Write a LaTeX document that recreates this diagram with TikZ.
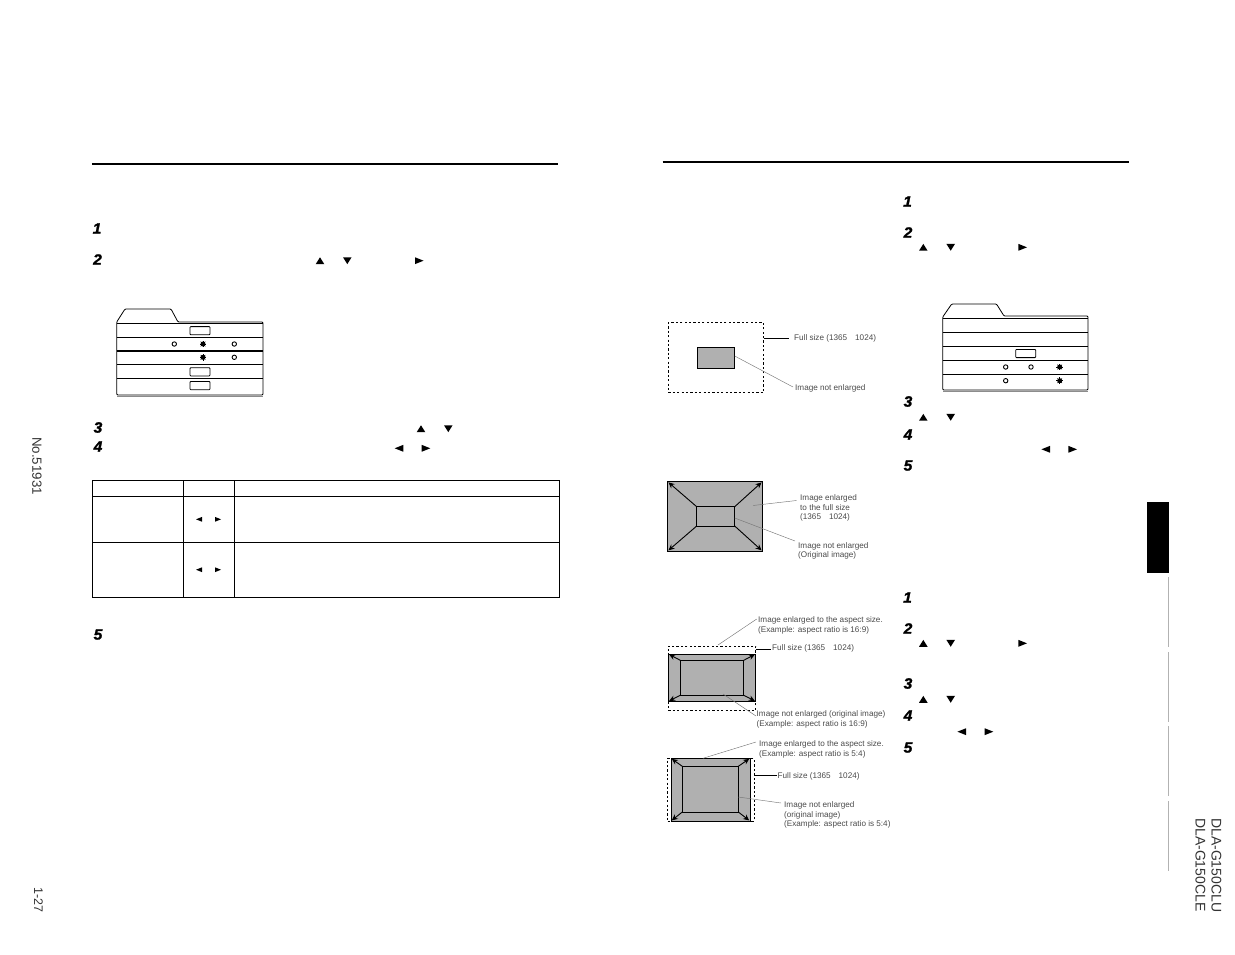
\documentclass[tikz,border=0pt]{standalone}
\usepackage{fontspec}
\setmainfont{Liberation Sans}
\newfontfamily\stepfont{Liberation Sans}[FakeBold=1.6,FakeStretch=1.04]
\usetikzlibrary{arrows.meta}
\definecolor{lbl}{HTML}{4A4A4A}
\definecolor{imgfill}{HTML}{B0B0B0}
\definecolor{leadc}{HTML}{777777}
\tikzset{
  x=1pt,y=-1pt,
  rulebar/.style={line width=2pt,black},
  menuline/.style={line width=0.8pt,black},
  stepnum/.style={font=\fontsize{15}{16}\stepfont\bfseries\itshape,inner sep=0},
  captxt/.style={font=\fontsize{8.15}{9.5}\selectfont,text=lbl,inner sep=0,anchor=north west,align=left,yshift=-1.8pt},
  sidetxt/.style={text=black!80,inner sep=0,rotate=-90},
  leadln/.style={line width=0.45pt,leadc},
  pointln/.style={line width=0.9pt,black},
  frameimg/.style={draw=black,line width=1pt,fill=imgfill},
  frameinner/.style={draw=black,line width=1pt},
  framedash/.style={draw=black,line width=0.9pt,dash pattern=on 2.2pt off 2.2pt},
  growline/.style={line width=0.9pt,shorten >=1pt,-{Stealth[length=6pt,width=5.5pt]}},
  tabcell/.style={line width=0.9pt,black},
}
% named rectangle from corners
\newcommand{\bx}[6]{%
  \pgfmathsetmacro{\bxw}{#4-#2}\pgfmathsetmacro{\bxh}{#5-#3}%
  \node[#6,rectangle,inner sep=0,outer sep=0,minimum width=\bxw pt,minimum height=\bxh pt,anchor=north west] (#1) at (#2,#3) {};}
\newcommand{\triU}[3]{\fill (#1-#3,#2+#3*0.8) -- (#1+#3,#2+#3*0.8) -- (#1,#2-#3*0.8) -- cycle;}
\newcommand{\triD}[3]{\fill (#1-#3,#2-#3*0.8) -- (#1+#3,#2-#3*0.8) -- (#1,#2+#3*0.8) -- cycle;}
\newcommand{\triL}[3]{\fill (#1+#3,#2-#3*0.8) -- (#1+#3,#2+#3*0.8) -- (#1-#3,#2) -- cycle;}
\newcommand{\triR}[3]{\fill (#1-#3,#2-#3*0.8) -- (#1-#3,#2+#3*0.8) -- (#1+#3,#2) -- cycle;}
\newcommand{\dotO}[2]{\draw[line width=0.9pt] (#1,#2) circle[radius=2.2];}
\newcommand{\dotF}[2]{\fill (#1,#2) circle[radius=2.5];
  \foreach \ang in {0,45,...,315}{\draw[line width=0.5pt] (#1,#2) -- ++(\ang:3.3);}}
\newcommand{\btn}[2]{\draw[line width=0.8pt,rounded corners=0.8pt] (#1,#2) rectangle (#1+20,#2+8.2);}
\newcommand{\stp}[4]{\node[stepnum] (#1) at (#2,#3) {#4};}
\begin{document}
\begin{tikzpicture}
\useasboundingbox (0,0) rectangle (1235,954);
% top rules
\draw[rulebar] (91.8,164) -- (558,164);
\draw[rulebar] (662.5,161.6) -- (1129,161.6);
% step numbers
\stp{la}{97}{228.5}{1}\stp{lb}{97.5}{259.5}{2}\stp{lc}{98}{427.5}{3}\stp{ld}{98}{446.5}{4}\stp{le}{98}{634.5}{5}
\stp{ra}{907.5}{201.5}{1}\stp{rb}{908}{232.5}{2}\stp{rc}{908}{401.5}{3}\stp{rd}{908}{434.5}{4}\stp{re}{908}{465.5}{5}
\stp{sa}{907.5}{597.5}{1}\stp{sb}{908}{628.5}{2}\stp{sc}{908}{683.5}{3}\stp{sd}{908}{715.5}{4}\stp{se}{908}{747.5}{5}
% triangles
\triU{320}{260.7}{4.3}\triD{347.3}{260.7}{4.3}\triR{419.3}{260.7}{4.3}
\triU{421}{428.7}{4.3}\triD{448.3}{428.7}{4.3}\triL{399}{448.3}{4.3}\triR{426}{448.3}{4.3}
\triL{199}{519.3}{3}\triR{218}{519.3}{3}\triL{199}{569.7}{3}\triR{218}{569.7}{3}
\triU{923.3}{247.3}{4.3}\triD{950.7}{247.3}{4.3}\triR{1022.7}{247.3}{4.3}
\triU{923.3}{417.3}{4.3}\triD{950.7}{417.3}{4.3}\triL{1045.7}{449.3}{4.3}\triR{1072.7}{449.3}{4.3}
\triU{923.3}{643.3}{4.3}\triD{950.7}{643.3}{4.3}\triR{1022.7}{643.3}{4.3}
\triU{923.3}{699.3}{4.3}\triD{950.7}{699.3}{4.3}\triL{961.7}{731.7}{4.3}\triR{989}{731.7}{4.3}
% left menu
\draw[menuline,rounded corners=1pt] (116.7,395) -- (116.7,322) -- (125,309) -- (171,309) -- (178,322) -- (263,322) -- (263,395) -- cycle;
\draw[menuline] (116.7,323.3) -- (263,323.3) (116.7,337.3) -- (263,337.3) (116.7,364.3) -- (263,364.3) (116.7,378.3) -- (263,378.3);
\draw[line width=1.4pt] (116.7,351) -- (263,351);
\draw[line width=0.8pt,black!45] (117,396) -- (263,396);
\btn{190}{326.6}\btn{190}{367.7}\btn{190}{381.5}
\dotO{174.3}{344}\dotF{203}{344}\dotO{234.3}{344}
\dotF{203}{357.3}\dotO{234.3}{357.3}
% right menu
\draw[menuline,rounded corners=1pt] (942.7,390) -- (942.7,317) -- (951.7,304) -- (996.5,304) -- (1004,316) -- (1088,316) -- (1088,390) -- cycle;
\draw[menuline] (942.7,318) -- (1088,318) (942.7,332.3) -- (1088,332.3) (942.7,346.3) -- (1088,346.3) (942.7,360.3) -- (1088,360.3) (942.7,374.3) -- (1088,374.3);
\draw[line width=0.8pt,black!45] (943,391) -- (1088,391);
\btn{1015.7}{349.4}
\dotO{1005.7}{367}\dotO{1031}{367}\dotF{1059.7}{367}
\dotO{1005.7}{380.7}\dotF{1059.7}{380.7}
% table
\draw[tabcell] (92.3,480.3) rectangle (559,597.3);
\draw[tabcell] (92.3,496.3) -- (559,496.3) (92.3,542.3) -- (559,542.3) (183.5,480.3) -- (183.5,597.3) (234.5,480.3) -- (234.5,597.3);
% diagram 1
\bx{da}{668.3}{322.7}{763.7}{392.3}{framedash}
\bx{db}{697.3}{347.3}{734.7}{368.3}{frameimg}
\node[captxt] (dc) at (794,332.6) {Full size (1365\hspace{8pt}1024)};
\node[captxt] (dd) at (795,382.6) {Image not enlarged};
\coordinate (dcs) at (763.7,338.5);\coordinate (dce) at (789.3,338.5);
\draw[pointln] (dcs) -- (dce);
\coordinate (dds) at (734.7,356);\coordinate (dde) at (793,387);
\draw[leadln] (dds) -- (dde);
% diagram 2
\bx{ea}{667.7}{481.7}{762.3}{551}{frameimg}
\bx{eb}{696.7}{506.7}{734.7}{526}{frameinner}
\foreach \cor in {north west,north east,south west,south east}{\draw[growline] (eb.\cor) -- (ea.\cor);}
\node[captxt] (ec) at (800,492.6) {Image enlarged\\to the full size\\(1365\hspace{8pt}1024)};
\node[captxt] (ed) at (798,540.4) {Image not enlarged\\(Original image)};
\coordinate (ecs) at (753,505.5);\coordinate (ece) at (796.5,500.5);
\draw[leadln] (ecs) -- (ece);
\coordinate (eds) at (734.7,518);\coordinate (ede) at (795,541);
\draw[leadln] (eds) -- (ede);
% diagram 3
\bx{fa}{668.3}{646}{755.7}{710.3}{framedash}
\bx{fb}{668.3}{654}{755.7}{701.3}{frameimg}
\bx{fc}{680.3}{660.3}{743.7}{695.3}{frameinner}
\foreach \cor in {north west,north east,south west,south east}{\draw[growline] (fc.\cor) -- (fb.\cor);}
\node[captxt] (fd) at (758,614.6) {Image enlarged to the aspect size.\\(Example: aspect ratio is 16:9)};
\node[captxt] (fe) at (772,642.8) {Full size (1365\hspace{8pt}1024)};
\node[captxt] (ff) at (756.5,708.6) {Image not enlarged (original image)\\(Example: aspect ratio is 16:9)};
\coordinate (fds) at (718,645);\coordinate (fde) at (756.7,619);
\draw[leadln] (fds) -- (fde);
\coordinate (fes) at (755.7,649);\coordinate (fee) at (771,649);
\draw[pointln] (fes) -- (fee);
\coordinate (ffs) at (723,694);\coordinate (ffe) at (756,716);
\draw[leadln] (ffs) -- (ffe);
% diagram 4
\bx{ga}{667.7}{758.3}{754}{821}{framedash}
\bx{gb}{671}{758.3}{750}{821}{frameimg}
\bx{gc}{682.3}{766.3}{738.3}{812}{frameinner}
\foreach \cor in {north west,north east,south west,south east}{\draw[growline] (gc.\cor) -- (gb.\cor);}
\node[captxt] (gd) at (759,738.6) {Image enlarged to the aspect size.\\(Example: aspect ratio is 5:4)};
\node[captxt] (ge) at (777.5,770.6) {Full size (1365\hspace{8pt}1024)};
\node[captxt] (gf) at (784,799.6) {Image not enlarged\\(original image)\\(Example: aspect ratio is 5:4)};
\coordinate (gds) at (703,758.3);\coordinate (gde) at (756,742);
\draw[leadln] (gds) -- (gde);
\coordinate (ges) at (754,775.5);\coordinate (gee) at (777,775.5);
\draw[pointln] (ges) -- (gee);
\coordinate (gfs) at (738.3,797);\coordinate (gfe) at (781,803);
\draw[leadln] (gfs) -- (gfe);
% side tab
\fill[black] (1147,502) rectangle (1168.5,572.7);
\draw[line width=0.6pt,black!30] (1168.4,577) -- (1168.4,647) (1168.4,652) -- (1168.4,721.7) (1168.4,726) -- (1168.4,796) (1168.4,801) -- (1168.4,871);
% rotated labels
\node[sidetxt,font=\fontsize{13.3}{14}\selectfont,anchor=west] (sn) at (37,437) {No.51931};
\node[sidetxt,font=\fontsize{12.5}{13}\selectfont,anchor=west] (sp) at (38.5,887) {1-27};
\node[sidetxt,font=\fontsize{14}{15}\selectfont,anchor=west] (su) at (1216.5,818) {DLA-G150CLU};
\node[sidetxt,font=\fontsize{14}{15}\selectfont,anchor=west] (se2) at (1200.5,818) {DLA-G150CLE};
\end{tikzpicture}
\end{document}
